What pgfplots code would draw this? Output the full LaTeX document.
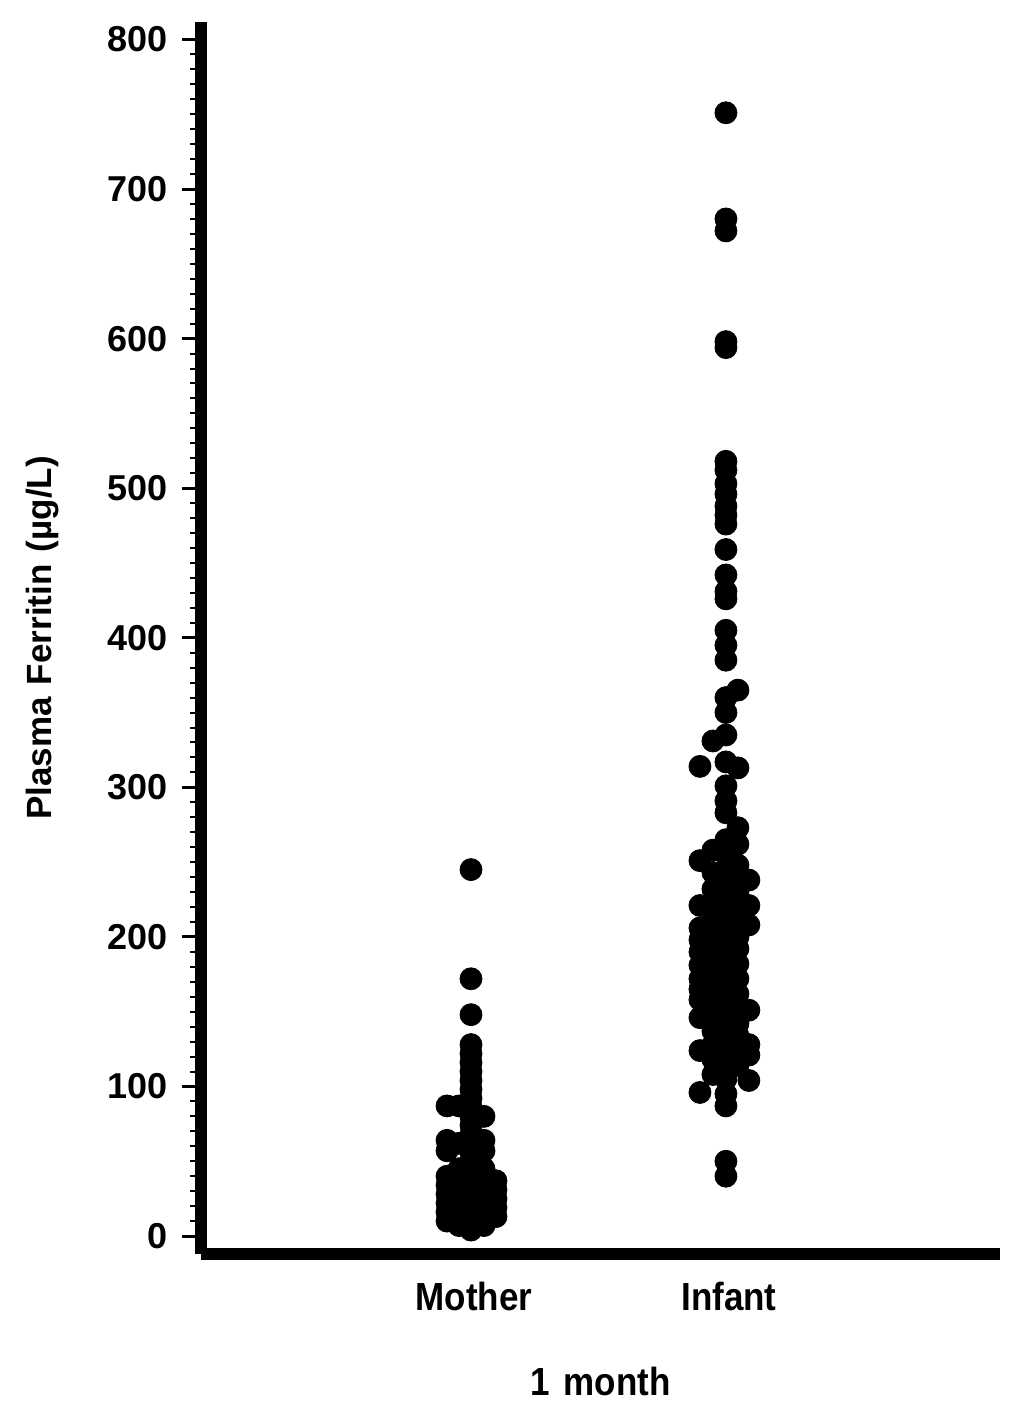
\documentclass[border=0pt]{standalone}
\usepackage{fontspec}
\setmainfont{Liberation Sans}
\usepackage{graphicx}
\usepackage{pgfplots}
\usepackage{pgfplotstable}
\pgfplotsset{compat=1.18}
\pgfplotstableread{
x y
0.894 87
0.894 64
0.894 57
0.894 40
0.894 34
0.894 28
0.894 22
0.894 16
0.894 10
0.941 87
0.941 62
0.941 45
0.941 38
0.941 30
0.941 24
0.941 18
0.941 12
0.941 7
0.988 245
0.988 172
0.988 148
0.988 128
0.988 122
0.988 116
0.988 110
0.988 104
0.988 98
0.988 92
0.988 86
0.988 80
0.988 74
0.988 68
0.988 62
0.988 56
0.988 50
0.988 44
0.988 38
0.988 32
0.988 26
0.988 20
0.988 14
0.988 8
0.988 4
1.039 80
1.039 64
1.039 57
1.039 45
1.039 38
1.039 30
1.039 24
1.039 18
1.039 12
1.039 7
1.086 37
1.086 31
1.086 25
1.086 19
1.086 13
}\mother
\pgfplotstableread{
x y
2.078 238
2.078 221
2.078 208
2.078 151
2.078 128
2.078 121
2.078 104
2.035 365
2.035 313
2.035 273
2.035 262
2.035 248
2.035 240
2.035 230
2.035 220
2.035 214
2.035 200
2.035 192
2.035 182
2.035 172
2.035 162
2.035 152
2.035 142
2.035 134
2.035 124
2.035 114
1.988 751
1.988 680
1.988 672
1.988 598
1.988 594
1.988 518
1.988 512
1.988 503
1.988 496
1.988 488
1.988 482
1.988 476
1.988 459
1.988 442
1.988 431
1.988 426
1.988 405
1.988 395
1.988 385
1.988 360
1.988 350
1.988 335
1.988 317
1.988 301
1.988 291
1.988 283
1.988 265
1.988 255
1.988 245
1.988 235
1.988 225
1.988 215
1.988 205
1.988 195
1.988 185
1.988 175
1.988 165
1.988 155
1.988 145
1.988 135
1.988 125
1.988 115
1.988 105
1.988 95
1.988 87
1.988 50
1.988 40
1.937 331
1.937 258
1.937 243
1.937 232
1.937 222
1.937 212
1.937 203
1.937 194
1.937 183
1.937 173
1.937 164
1.937 155
1.937 146
1.937 137
1.937 128
1.937 118
1.937 108
1.886 314
1.886 251
1.886 221
1.886 206
1.886 198
1.886 190
1.886 181
1.886 172
1.886 165
1.886 158
1.886 146
1.886 124
1.886 96
}\infant
\newcommand{\lbl}{\fontsize{17.5}{20}\selectfont\bfseries}
\begin{document}
\begin{tikzpicture}
\path[use as bounding box] (-100.5pt,-84pt) rectangle (411.5pt,627pt);
\begin{axis}[
  scale only axis, width=399.5pt, height=616pt,
  at={(0pt,0pt)}, anchor=south west,
  xmin=-0.071, xmax=3.063, ymin=-12, ymax=811.7,
  axis lines=left,
  axis line style={line width=6pt, -, black},
  xtick={1,2}, xticklabels={\scalebox{1}[1.12]{Mother},\scalebox{1}[1.12]{Infant}},
  xtick style={draw=none},
  ytick={0,100,...,800},
  minor y tick num=9,
  tick align=outside,
  major tick length=9.5pt,
  minor tick length=5.5pt,
  ytick style={line width=1.5pt, black},
  minor y tick style={line width=1pt, black},
  /pgf/number format/assume math mode=true,
  yticklabel style={font=\fontsize{18}{20}\selectfont\bfseries, xshift=-3.5pt},
  xticklabel style={font=\lbl, yshift=-1pt},
  xlabel={\scalebox{1}[1.12]{1\hspace{0.4em}month}},
  ylabel={Plasma\hspace{0.35em}Ferritin\hspace{0.35em}(µg/L)},
  every axis x label/.style={at={(axis description cs:0.5,0)}, yshift=-63.5pt, anchor=center, font=\lbl},
  every axis y label/.style={at={(axis description cs:0,0.5)}, xshift=-79pt, rotate=90, anchor=center, font=\lbl},
  clip=false,
]
\addplot[only marks, mark=*, mark size=5.5pt, draw=black, fill=black, mark options={draw=black, fill=black}] table[x=x, y=y] {\mother};
\addplot[only marks, mark=*, mark size=5.5pt, draw=black, fill=black, mark options={draw=black, fill=black}] table[x=x, y=y] {\infant};
\end{axis}
\end{tikzpicture}
\end{document}
